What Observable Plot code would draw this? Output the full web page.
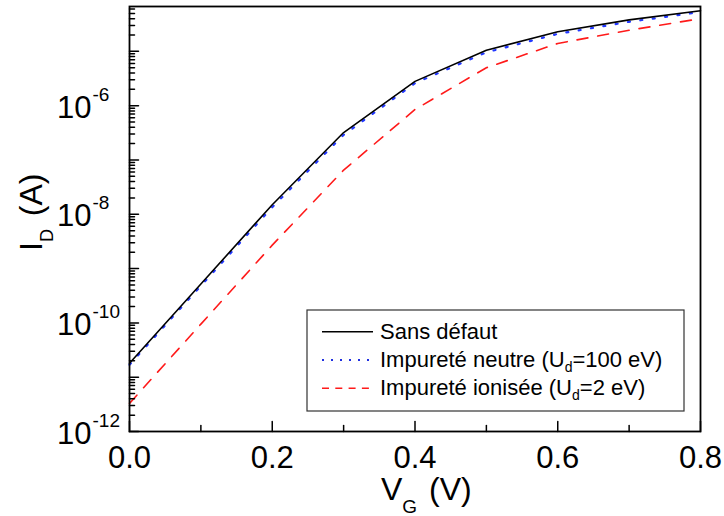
<!DOCTYPE html>
<html>
<head>
<meta charset="utf-8">
<script src="https://cdn.jsdelivr.net/npm/d3@7"></script>
<script src="https://cdn.jsdelivr.net/npm/@observablehq/plot@0.6"></script>
<style>
  body { margin: 0; background: #fff; }
  #chart { position: relative; width: 724px; height: 516px; }
  svg { font-family: "Liberation Sans", Arial, sans-serif; }
</style>
</head>
<body>
<div id="chart"></div>
<script>
// ---- data ----
const vg = [0.0, 0.1, 0.2, 0.3, 0.4, 0.5, 0.6, 0.7, 0.8];
const idSansDefaut = [1.8e-11, 5.2e-10, 1.5e-8, 3.2e-7, 2.8e-6, 1.05e-5, 2.3e-5, 3.8e-5, 5.6e-5];
const idNeutre     = [1.7e-11, 4.8e-10, 1.35e-8, 2.9e-7, 2.6e-6, 9.6e-6, 2.1e-5, 3.5e-5, 5.3e-5];
const idIonisee    = [3.3e-12, 9.5e-11, 2.7e-9, 6.5e-8, 8.5e-7, 5.0e-6, 1.4e-5, 2.45e-5, 4.0e-5];

const xMajorTicks = [0.0, 0.2, 0.4, 0.6, 0.8];
const xTickLabels = ["0.0", "0.2", "0.4", "0.6", "0.8"];
const xMinorTicks = [0.1, 0.3, 0.5, 0.7];
const yDecadeExponents = [-12, -11, -10, -9, -8, -7, -6, -5];
const yLabelExponents = [-12, -10, -8, -6];
const yDomain = [1e-12, 6.7e-5];

// ---- derived tables ----
const series = [
  {name: "Sans défaut", values: idSansDefaut},
  {name: "Impureté neutre", values: idNeutre},
  {name: "Impureté ionisée", values: idIonisee}
];
const rows = series.map(s => vg.map((v, i) => ({vg: v, id: s.values[i], serie: s.name})));

const yMajor = yDecadeExponents.map(e => Math.pow(10, e));
const yMinor = [];
for (const e of yDecadeExponents) for (let k = 2; k <= 9; k++) {
  const v = k * Math.pow(10, e);
  if (v <= yDomain[1]) yMinor.push(v);
}
const yLabels = yLabelExponents.map(e => ({v: Math.pow(10, e), exp: String(e)}));
const xLabels = xMajorTicks.map((v, i) => ({v, t: xTickLabels[i]}));

const tickShape = {draw(context, l) { context.moveTo(0, 0); context.lineTo(0, -l); }};
const fontSans = "'Liberation Sans', Arial, sans-serif";

const plot = Plot.plot({
  width: 724,
  height: 516,
  marginLeft: 129,
  marginRight: 24,
  marginTop: 6,
  marginBottom: 85,
  style: {fontFamily: fontSans, background: "#fff", color: "#000"},
  x: {domain: [0, 0.8], axis: null},
  y: {type: "log", domain: yDomain, axis: null},
  marks: [
    // curves
    Plot.line(rows[2], {x: "vg", y: "id", stroke: "#ff1a1a", strokeWidth: 1.6, strokeDasharray: "11,10"}),
    Plot.line(rows[1], {x: "vg", y: "id", stroke: "#2238ff", strokeWidth: 2.2, strokeDasharray: "2,10.5"}),
    Plot.line(rows[0], {x: "vg", y: "id", stroke: "#000", strokeWidth: 1.6}),
    // ticks (inward)
    Plot.vector(xMajorTicks, {x: d => d, frameAnchor: "bottom", length: 10, rotate: 0, anchor: "start", shape: tickShape, stroke: "#000", strokeWidth: 1.5}),
    Plot.vector(xMinorTicks, {x: d => d, frameAnchor: "bottom", length: 6, rotate: 0, anchor: "start", shape: tickShape, stroke: "#000", strokeWidth: 1.5}),
    Plot.vector(yMajor, {y: d => d, frameAnchor: "left", length: 9, rotate: 90, anchor: "start", shape: tickShape, stroke: "#000", strokeWidth: 1.5}),
    Plot.vector(yMinor, {y: d => d, frameAnchor: "left", length: 5, rotate: 90, anchor: "start", shape: tickShape, stroke: "#000", strokeWidth: 1.5}),
    // tick labels
    Plot.text(xLabels, {x: "v", text: "t", frameAnchor: "bottom", lineAnchor: "bottom", dy: 36, fontSize: 31, fill: "#000"}),
    Plot.text(yLabels, {y: "v", text: () => "10", frameAnchor: "left", textAnchor: "end", lineAnchor: "bottom", dx: -38, dy: 12, fontSize: 31, fill: "#000"}),
    Plot.text(yLabels, {y: "v", text: "exp", frameAnchor: "left", textAnchor: "start", lineAnchor: "bottom", dx: -37, dy: -5, fontSize: 19, fill: "#000"}),
    Plot.frame({stroke: "#000", strokeWidth: 1.8})
  ]
});

document.getElementById("chart").appendChild(plot);
const svg = d3.select(plot);

// axis titles
const yt = svg.append("text")
  .attr("transform", "translate(41.5,251) rotate(-90)")
  .attr("text-anchor", "start")
  .attr("font-size", 32).attr("fill", "#000");
yt.append("tspan").text("I");
yt.append("tspan").attr("font-size", 18).attr("dy", 11.5).text("D");
yt.append("tspan").attr("dy", -11.5).attr("dx", 4).text(" (A)");

const xt = svg.append("text")
  .attr("x", 381).attr("y", 500)
  .attr("text-anchor", "start")
  .attr("font-size", 32).attr("fill", "#000");
xt.append("tspan").text("V");
xt.append("tspan").attr("font-size", 19).attr("dy", 13).text("G");
xt.append("tspan").attr("dy", -13).attr("dx", 3).text(" (V)");

// legend
const legendItems = [
  {label: ["Sans défaut"], stroke: "#000", dash: null, width: 1.6},
  {label: ["Impureté neutre (U", "d", "=100 eV)"], stroke: "#1f2fe0", dash: "2,7", width: 2},
  {label: ["Impureté ionisée (U", "d", "=2 eV)"], stroke: "#ff1a1a", dash: "7,6.3", width: 1.6}
];
const lg = svg.append("g").attr("text-anchor", "start");
lg.append("rect").attr("x", 307).attr("y", 310).attr("width", 377).attr("height", 101)
  .attr("fill", "#fff").attr("stroke", "#333").attr("stroke-width", 1.2);
legendItems.forEach((it, i) => {
  const cy = 331.7 + i * 28.3;
  lg.append("line").attr("x1", 322).attr("x2", 373).attr("y1", cy).attr("y2", cy)
    .attr("stroke", it.stroke).attr("stroke-width", it.width)
    .attr("stroke-dasharray", it.dash);
  const t = lg.append("text").attr("x", 380).attr("y", cy + 7)
    .attr("text-anchor", "start").attr("font-size", 22).attr("fill", "#000");
  t.append("tspan").text(it.label[0]);
  if (it.label.length > 1) {
    t.append("tspan").attr("font-size", 14).attr("dy", 5).text(it.label[1]);
    t.append("tspan").attr("dy", -5).text(it.label[2]);
  }
});
</script>
</body>
</html>
